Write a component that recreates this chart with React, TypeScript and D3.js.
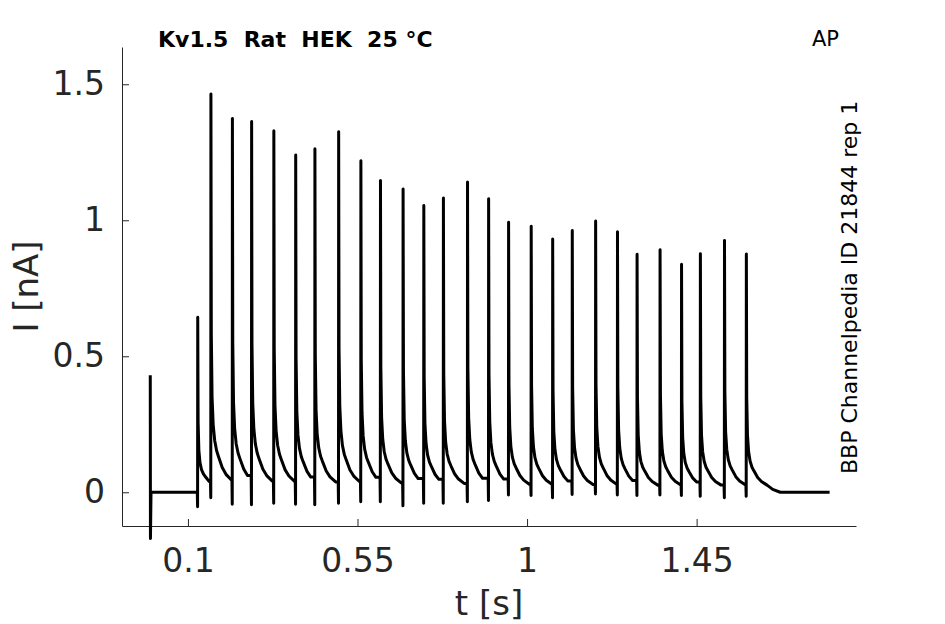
import * as d3 from "d3"
import React from "react"

// stimulus artifact at t = 0
const artifactTime = 0
const artifactTop = 0.43
const artifactBottom = -0.17

// spike onsets [s], peak currents [nA] and the dip just before each onset [nA]
const spikeTimes = [0.126, 0.161, 0.218, 0.269, 0.328, 0.386, 0.437, 0.500, 0.559, 0.611, 0.671, 0.726, 0.778, 0.842,
  0.898, 0.951, 1.011, 1.068, 1.120, 1.182, 1.240, 1.292, 1.353, 1.410, 1.460, 1.524, 1.582]
const spikePeaks = [0.643, 1.464, 1.374, 1.363, 1.329, 1.240, 1.263, 1.325, 1.219, 1.146, 1.115, 1.054, 1.082, 1.141,
  1.079, 0.993, 0.978, 0.931, 0.962, 0.997, 0.958, 0.875, 0.892, 0.838, 0.877, 0.926, 0.876]
const spikeDips = [-0.053, -0.02, -0.044, -0.046, -0.04, -0.044, -0.046, -0.04, -0.035, -0.035, -0.05, -0.04, -0.04, -0.035,
  -0.03, -0.01, -0.012, -0.02, -0.008, -0.006, -0.01, -0.012, -0.01, -0.012, -0.015, -0.02, -0.015]

const decayOffsets = [0, 0.001, 0.003, 0.006, 0.01, 0.015, 0.02, 0.03, 0.04, 0.055, 0.07, 0.09]
const decayFractions = [1, 0.4, 0.24, 0.17, 0.13, 0.105, 0.09, 0.062, 0.045, 0.03, 0.012, 0]

const traceEnd = 1.803

const xTicks = [0.1, 0.55, 1, 1.45]
const yTicks = [0, 0.5, 1, 1.5]

const title = "Kv1.5  Rat  HEK  25 °C"
const protocol = "AP"
const sideLabel = "BBP Channelpedia ID 21844 rep 1"

const buildTrace = () => {
  const pts: [number, number][] = []
  pts.push([artifactTime, artifactTop])
  pts.push([artifactTime + 0.0005, artifactBottom])
  pts.push([artifactTime + 0.002, 0])
  spikeTimes.forEach((t, i) => {
    const prev = pts[pts.length - 1][1]
    pts.push([t - 0.0012, prev])
    pts.push([t - 0.0004, spikeDips[i]])
    pts.push([t, spikePeaks[i]])
    const next = i < spikeTimes.length - 1 ? spikeTimes[i + 1] : traceEnd
    decayOffsets.forEach((o, k) => {
      if (k === 0) return
      if (t + o < next - 0.0012) pts.push([t + o, spikePeaks[i] * decayFractions[k]])
    })
  })
  pts.push([traceEnd, 0])
  return pts
}

const width = 945
const height = 624
const marginLeft = 122
const marginRight = 89
const marginTop = 47
const marginBottom = 98
const font = "'DejaVu Sans', sans-serif"
const axisColor = "#262626"

const createChart = (svgEl: SVGSVGElement) => {
  const svg = d3.select(svgEl)
  svg.selectAll("*").remove()

  const x = d3.scaleLinear([-0.075, 1.873], [marginLeft, width - marginRight])
  const y = d3.scaleLinear([-0.124, 1.637], [height - marginBottom, marginTop])

  const yAxis = d3.axisLeft(y).tickValues(yTicks).tickFormat((d: any) => String(d))
    .tickSizeInner(-7).tickSizeOuter(0).tickPadding(17)
  const xAxis = d3.axisBottom(x).tickValues(xTicks).tickFormat((d: any) => String(d))
    .tickSizeInner(-7).tickSizeOuter(0).tickPadding(23)

  svg.append("g")
    .attr("transform", `translate(${marginLeft},0)`)
    .call(yAxis)
    .call((g: any) => g.selectAll("text").attr("font-size", 33).attr("font-family", font).attr("fill", axisColor))
    .call((g: any) => g.selectAll("line,path").attr("stroke", axisColor))

  svg.append("g")
    .attr("transform", `translate(0,${height - marginBottom})`)
    .call(xAxis)
    .call((g: any) => g.selectAll("text").attr("font-size", 33).attr("font-family", font).attr("fill", axisColor))
    .call((g: any) => g.selectAll("line,path").attr("stroke", axisColor))

  const line = d3.line<[number, number]>()
    .x(d => x(d[0]))
    .y(d => y(d[1]))

  svg.append("path")
    .datum(buildTrace())
    .attr("fill", "none")
    .attr("stroke", "#000")
    .attr("stroke-width", 3)
    .attr("stroke-linejoin", "round")
    .attr("d", line)

  svg.append("text")
    .attr("x", (marginLeft + width - marginRight) / 2)
    .attr("y", 615)
    .attr("text-anchor", "middle")
    .attr("font-family", font)
    .attr("font-size", 34)
    .attr("fill", axisColor)
    .text("t [s]")

  svg.append("text")
    .attr("transform", `translate(38,${(marginTop + height - marginBottom) / 2}) rotate(-90)`)
    .attr("text-anchor", "middle")
    .attr("font-family", font)
    .attr("font-size", 34)
    .attr("fill", axisColor)
    .text("I [nA]")

  svg.append("text")
    .attr("x", 158)
    .attr("y", 47)
    .attr("font-family", font)
    .attr("font-weight", "bold")
    .attr("font-size", 22)
    .attr("fill", "#000")
    .attr("xml:space", "preserve")
    .style("white-space", "pre")
    .text(title)

  svg.append("text")
    .attr("x", 839)
    .attr("y", 46)
    .attr("text-anchor", "end")
    .attr("font-family", font)
    .attr("font-size", 21)
    .attr("fill", "#000")
    .text(protocol)

  svg.append("text")
    .attr("transform", `translate(857,474) rotate(-90)`)
    .attr("font-family", font)
    .attr("font-size", 22)
    .attr("fill", "#000")
    .text(sideLabel)
}

const App = () => {
  const ref = React.useRef<SVGSVGElement>(null)
  React.useEffect(() => {
    if (ref.current) createChart(ref.current)
  }, [])
  return (
    <svg ref={ref} width={width} height={height}
      style={{ position: "absolute", left: 0, top: 0, background: "#fff" }} />
  )
}

export default App
